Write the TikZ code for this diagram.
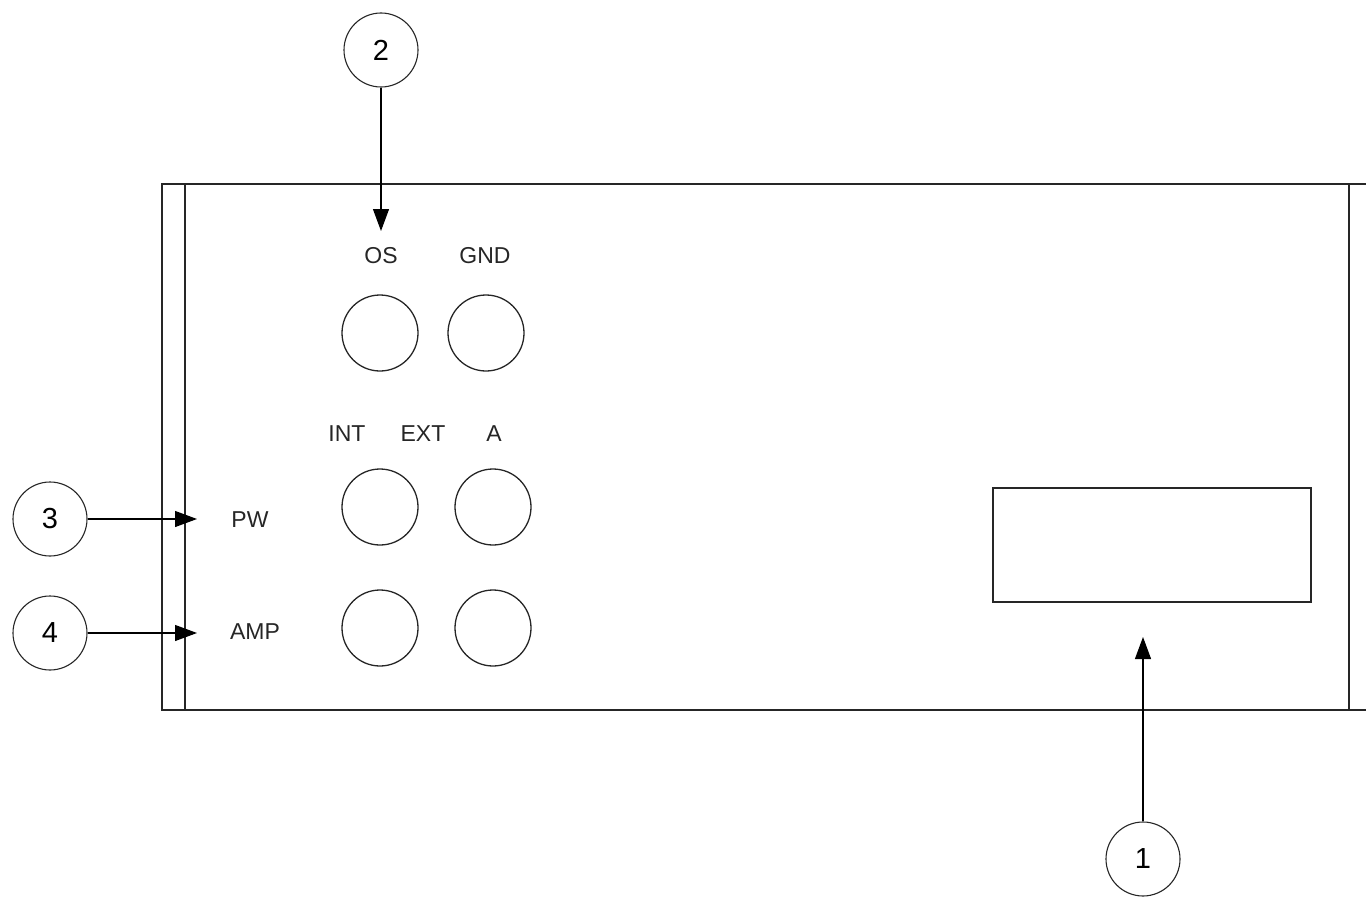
\documentclass[tikz,border=0pt]{standalone}
\usepackage{fontspec}
\setmainfont{Liberation Sans}
\usetikzlibrary{arrows.meta}
\begin{document}
\begin{tikzpicture}[x=1pt,y=-1pt,
  frame/.style={draw=black!85,line width=1.4pt},
  knob/.style={circle,draw=black!85,line width=1.3pt,minimum size=76pt,inner sep=0pt},
  callout/.style={circle,draw=black!85,line width=1.1pt,minimum size=74pt,inner sep=0pt,font=\fontsize{29}{33}\selectfont},
  lbl/.style={inner sep=0pt,font=\fontsize{23}{27}\selectfont,text=black!85},
  pointer/.style={draw=black,line width=1.1pt,-{Triangle[length=22pt,width=16pt]}}]
\useasboundingbox (0,0) rectangle (1366,899);
% panel
\draw[frame] (1366,184) -- (162,184) -- (162,710) -- (1366,710);
\draw[frame] (185,184) -- (185,710);
\draw[frame] (1349,184) -- (1349,710);
% display
\node[draw=black!85,line width=1.4pt,minimum width=318pt,minimum height=114pt,inner sep=0pt] (disp) at (1152,545) {};
% knobs
\node[knob] (os) at (380,333) {};
\node[knob] (gnd) at (486,333) {};
\node[knob] (int) at (380,507) {};
\node[knob] (a) at (493,507) {};
\node[knob] (amp1) at (380,628) {};
\node[knob] (amp2) at (493,628) {};
% labels
\node[lbl] (tos) at (381,256) {OS};
\node[lbl] (tgnd) at (485,256) {GND};
\node[lbl] (tint) at (347,434) {INT};
\node[lbl] (text) at (423,434) {EXT};
\node[lbl] (ta) at (494,434) {A};
\node[lbl] (tpw) at (250,520) {PW};
\node[lbl] (tamp) at (255,632) {AMP};
% callouts
\node[callout] (c1) at (1143,859) {1};
\node[callout] (c2) at (381,50) {2};
\node[callout] (c3) at (50,519) {3};
\node[callout] (c4) at (50,633) {4};
\coordinate (p1) at (1143,637);
\coordinate (p2) at (381,231);
\coordinate (p3) at (197,519);
\coordinate (p4) at (197,633);
\draw[pointer] (c1) -- (p1);
\draw[pointer] (c2) -- (p2);
\draw[pointer] (c3) -- (p3);
\draw[pointer] (c4) -- (p4);
\end{tikzpicture}
\end{document}
